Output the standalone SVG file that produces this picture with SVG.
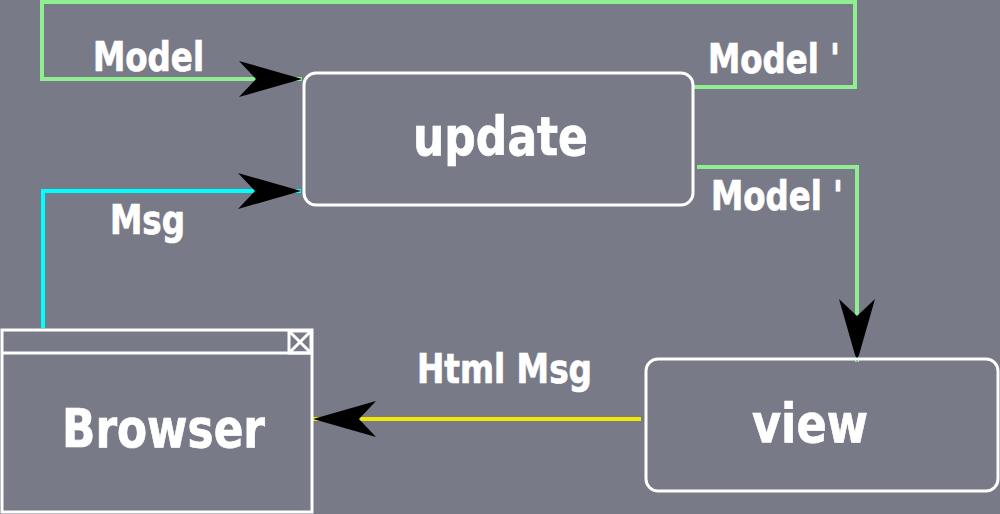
<svg xmlns="http://www.w3.org/2000/svg" width="1000" height="514" viewBox="0 0 1000 514">
<style>
.bg{fill:#797a87}
.box{fill:none;stroke:#ffffff;stroke-width:3}
.lbl{font-family:"DejaVu Sans Condensed","DejaVu Sans",sans-serif;font-weight:bold;fill:#ffffff;stroke:#ffffff;stroke-width:0.7}
.conn{fill:none;stroke-width:4}
.g{stroke:#90ee90}
.c{stroke:#00ffff}
.y{stroke:#f0e800}
</style>
<defs>
<marker id="ah" viewBox="-64 -20 66 40" refX="0" refY="0" markerWidth="66" markerHeight="40" markerUnits="userSpaceOnUse" orient="auto">
<path d="M0,0 L-63,-18 L-46,0 L-63,18 Z" fill="#000000"/>
</marker>
</defs>
<rect class="bg" x="0" y="0" width="1000" height="514"/>
<g id="connectors">
<polyline class="conn g" points="693,87 855,87 855,2 42,2 42,79 302,79" marker-end="url(#ah)"/>
<polyline class="conn c" points="43,328 43,191 301,191" marker-end="url(#ah)"/>
<polyline class="conn g" points="697,167 857,167 857,362" marker-end="url(#ah)"/>
<line class="conn y" x1="641" y1="419" x2="313" y2="419" marker-end="url(#ah)"/>
<text class="lbl" x="93" y="71" font-size="40" textLength="111" lengthAdjust="spacingAndGlyphs">Model</text>
<text class="lbl" x="708" y="73" font-size="40" textLength="132" lengthAdjust="spacingAndGlyphs">Model '</text>
<text class="lbl" x="110" y="234" font-size="40" textLength="75" lengthAdjust="spacingAndGlyphs">Msg</text>
<text class="lbl" x="711" y="210" font-size="40" textLength="132" lengthAdjust="spacingAndGlyphs">Model '</text>
<text class="lbl" x="417" y="383" font-size="40" textLength="175" lengthAdjust="spacingAndGlyphs">Html Msg</text>
</g>
<g id="update">
<rect class="box" x="304" y="73" width="389" height="132" rx="12" ry="12"/>
<text class="lbl" x="413" y="155" font-size="54" textLength="175" lengthAdjust="spacingAndGlyphs">update</text>
</g>
<g id="view">
<rect class="box" x="646" y="359" width="352" height="132" rx="12" ry="12"/>
<text class="lbl" x="752" y="442" font-size="54" textLength="116" lengthAdjust="spacingAndGlyphs">view</text>
</g>
<g id="browser">
<rect class="box" x="2" y="330" width="310" height="182"/>
<line class="box" x1="2" y1="353" x2="312" y2="353"/>
<rect class="box" x="289" y="331" width="22" height="22"/>
<line class="box" x1="289" y1="331" x2="311" y2="353"/>
<line class="box" x1="311" y1="331" x2="289" y2="353"/>
<text class="lbl" x="62" y="447" font-size="54" textLength="203" lengthAdjust="spacingAndGlyphs">Browser</text>
</g>
</svg>
